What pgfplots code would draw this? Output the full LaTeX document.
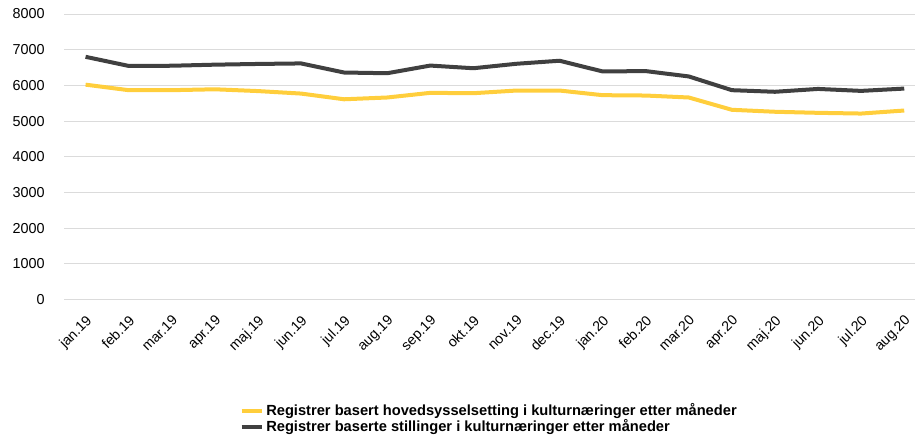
\documentclass[border=0pt]{standalone}
\usepackage{pgfplots}
\pgfplotsset{compat=1.18}
\usepackage{fontspec}
\setmainfont{Liberation Sans}
\definecolor{gul}{RGB}{255,206,60}
\definecolor{mork}{RGB}{64,64,64}
\begin{document}
\begin{tikzpicture}
\begin{axis}[
  name=ax,
  scale only axis,
  width=638pt, height=214pt,
  xmin=-0.5, xmax=19.25,
  ymin=0, ymax=8000,
  ytick={0,1000,...,8000},
  xtick={0,...,19},
  xticklabels={jan.19,feb.19,mar.19,apr.19,maj.19,jun.19,jul.19,aug.19,sep.19,okt.19,nov.19,dec.19,jan.20,feb.20,mar.20,apr.20,maj.20,jun.20,jul.20,aug.20},
  x tick label style={rotate=45, anchor=north east, font=\fontsize{10.6}{12}\selectfont, inner sep=0pt, yshift=-7.5pt, xshift=-8pt},
  y tick label style={font=\fontsize{10.8}{12}\selectfont, xshift=-11pt},
  /pgf/number format/assume math mode=true,
  scaled y ticks=false,
  yticklabel={\pgfmathprintnumber[fixed,1000 sep={}]{\tick}},
  axis line style={draw=none},
  major tick length=0pt,
  ymajorgrids=true,
  grid style={gray!28, line width=0.7pt},
  legend style={at={(0.5,-0.355)}, anchor=north, draw=none, font=\bfseries\fontsize{11}{12}\selectfont, cells={anchor=west}, row sep=-2.5pt, inner sep=0pt},
  legend image code/.code={\draw[#1, line width=3pt] (0pt,0pt) -- (15pt,0pt);},
  legend cell align=left,
]
\addplot[gul, line width=3pt, line join=round] coordinates {
(0,6020) (1,5865) (2,5865) (3,5890) (4,5840) (5,5770) (6,5610) (7,5660) (8,5790) (9,5780)
(10,5855) (11,5855) (12,5725) (13,5715) (14,5660) (15,5315) (16,5260) (17,5230) (18,5210) (19,5295)};
\addlegendentry{Registrer basert hovedsysselsetting i kulturnæringer etter måneder}
\addplot[mork, line width=3pt, line join=round] coordinates {
(0,6800) (1,6545) (2,6550) (3,6580) (4,6600) (5,6615) (6,6360) (7,6340) (8,6555) (9,6480)
(10,6605) (11,6690) (12,6390) (13,6400) (14,6250) (15,5865) (16,5820) (17,5900) (18,5845) (19,5910)};
\addlegendentry{Registrer baserte stillinger i kulturnæringer etter måneder}
\end{axis}
\pgfresetboundingbox
\useasboundingbox ([xshift=-48pt,yshift=10.5pt]ax.north west) rectangle ([yshift=-102.7pt]ax.south east);
\end{tikzpicture}
\end{document}
